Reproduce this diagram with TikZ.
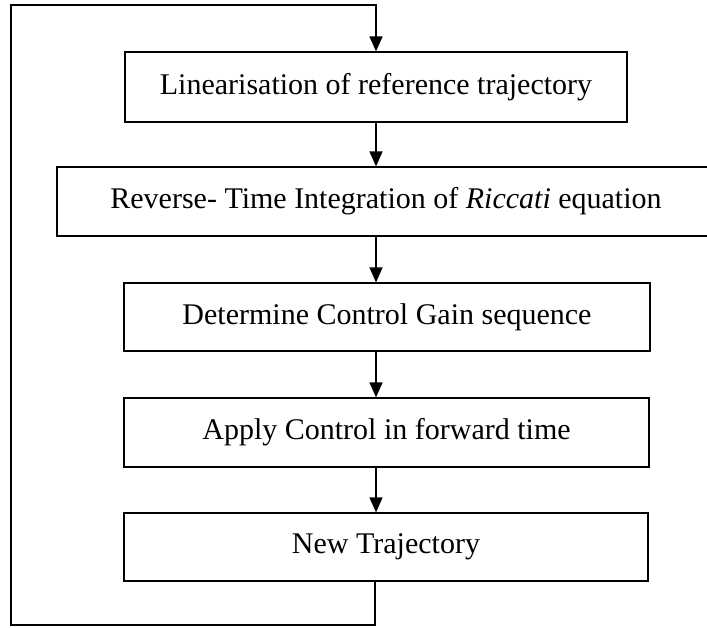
\documentclass[tikz,border=0pt]{standalone}
\usepackage{fontspec}
\setmainfont{Liberation Serif}
\usetikzlibrary{arrows.meta}
\begin{document}
\begin{tikzpicture}[x=1pt,y=-1pt,
  stepbox/.style={draw=black, line width=1.2pt, rectangle, inner sep=0pt,
    font=\fontsize{30}{36}\selectfont, anchor=center},
  conn/.style={line width=1.2pt, draw=black},
  arr/.style={conn, -{Triangle[width=13pt,length=15pt]}}]
\useasboundingbox (0,0) rectangle (707,627);
\clip (0,0) rectangle (707,627);
\fill[white] (0,0) rectangle (707,627);
\node[stepbox, minimum width=502pt, minimum height=70pt] (b1) at (376,87) {Linearisation of reference trajectory};
\node[stepbox, minimum width=658pt, minimum height=69pt] (b2) at (386,201.5) {Reverse- Time Integration of \textit{Riccati} equation};
\node[stepbox, minimum width=526pt, minimum height=68pt] (b3) at (387,317) {Determine Control Gain sequence};
\node[stepbox, minimum width=525pt, minimum height=69pt] (b4) at (386.5,432.5) {Apply Control in forward time};
\node[stepbox, minimum width=524pt, minimum height=68pt] (b5) at (386,547) {New Trajectory};
\coordinate (br) at (375,625);
\coordinate (bl) at (11,625);
\coordinate (tl) at (11,5);
\coordinate (tr) at (376,5);
\draw[arr] (b1.south) -- (b1.south |- b2.north);
\draw[arr] (b1.south |- b2.south) -- (b1.south |- b3.north);
\draw[arr] (b1.south |- b3.south) -- (b1.south |- b4.north);
\draw[arr] (b1.south |- b4.south) -- (b1.south |- b5.north);
\draw[arr] (br |- b5.south) -- (br) -- (bl) -- (tl) -- (tr) -- (b1.north);
\end{tikzpicture}
\end{document}
